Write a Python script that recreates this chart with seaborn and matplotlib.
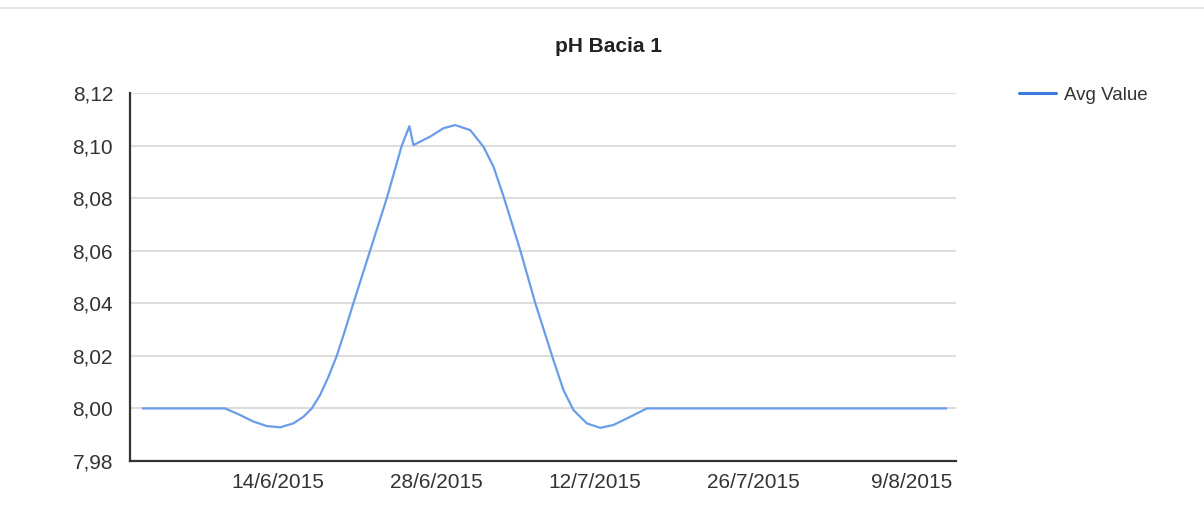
import pandas as pd
import matplotlib.pyplot as plt
import matplotlib.dates as mdates
from matplotlib.ticker import FuncFormatter, FixedLocator
from matplotlib.lines import Line2D
import seaborn as sns

# Readings taken off the curve (time, pH)
times = [
    "2015-06-02 01:00", "2015-06-09 07:30", "2015-06-10 15:20", "2015-06-11 19:30",
    "2015-06-13 00:00", "2015-06-14 04:20", "2015-06-15 08:25", "2015-06-16 05:45",
    "2015-06-16 23:35", "2015-06-17 17:15", "2015-06-18 10:50", "2015-06-19 04:35",
    "2015-06-19 22:20", "2015-06-20 15:50", "2015-06-22 03:20", "2015-06-23 14:50",
    "2015-06-24 22:35", "2015-06-25 14:50", "2015-06-25 23:15", "2015-06-27 10:45",
    "2015-06-28 15:00", "2015-06-29 15:50", "2015-06-30 23:45", "2015-07-02 03:50",
    "2015-07-03 01:10", "2015-07-03 22:20", "2015-07-05 09:50", "2015-07-06 17:45",
    "2015-07-08 08:25", "2015-07-09 05:45", "2015-07-10 02:55",
    "2015-07-11 07:25", "2015-07-12 11:45", "2015-07-13 15:50", "2015-07-15 03:20",
    "2015-07-16 14:50", "2015-08-12 02:10",
]
values = [
    8.0000, 8.0000, 7.9975, 7.9950,
    7.9933, 7.9928, 7.9943, 7.9968,
    8.0000, 8.0051, 8.0120, 8.0200,
    8.0298, 8.0400, 8.0600, 8.0800,
    8.1000, 8.1074, 8.1002, 8.1034,
    8.1066, 8.1078, 8.1059, 8.0996,
    8.0920, 8.0808, 8.0603, 8.0402,
    8.0184, 8.0070, 7.9994,
    7.9943, 7.9926, 7.9937, 7.9968,
    8.0000, 8.0000,
]

tick_dates = ["2015-06-14", "2015-06-28", "2015-07-12", "2015-07-26", "2015-08-09"]
y_ticks = [7.98, 8.00, 8.02, 8.04, 8.06, 8.08, 8.10, 8.12]

df = pd.DataFrame({"time": pd.to_datetime(times), "value": values, "series": "Avg Value"})

sns.set_style("white")
plt.rcParams["font.family"] = ["Liberation Sans", "DejaVu Sans"]

fig = plt.figure(figsize=(12.04, 5.13), dpi=100)
ax = fig.add_axes([0.108, 0.1014, 0.686, 0.7173])

ax.set_ylim(7.98, 8.12)
ax.set_xlim(pd.Timestamp("2015-05-31 21:50"), pd.Timestamp("2015-08-12 22:50"))
ax.set_yticks(y_ticks)
ax.yaxis.grid(True, color="#dddddd", linewidth=1.5)
ax.set_axisbelow(True)

sns.lineplot(data=df, x="time", y="value", hue="series", palette=["#6a9de8"],
             linewidth=1.6, ax=ax, legend=False)

ax.xaxis.set_major_locator(FixedLocator(mdates.date2num(pd.to_datetime(tick_dates))))
ax.xaxis.set_major_formatter(FuncFormatter(
    lambda v, p: (lambda d: f"{d.day}/{d.month}/{d.year}")(mdates.num2date(v))))
ax.yaxis.set_major_formatter(FuncFormatter(lambda v, p: f"{v:.2f}".replace(".", ",")))

for side in ["top", "right"]:
    ax.spines[side].set_visible(False)
for side in ["left", "bottom"]:
    ax.spines[side].set_color("#333333")
    ax.spines[side].set_linewidth(1.6)
ax.tick_params(axis="both", direction="out", width=1.5, color="#333333",
               labelsize=15, labelcolor="#333333")
ax.tick_params(axis="y", length=8.6, pad=3.6)
ax.tick_params(axis="x", length=3.6, pad=5.4)
ax.set_xlabel("")
ax.set_ylabel("")

fig.text(0.505, 0.91, "pH Bacia 1", ha="center", va="center", fontsize=15,
         fontweight="bold", color="#222222")

# legend at the right, outside the plot area
handle = Line2D([], [], color="#3a7be0", linewidth=2.2)
fig.legend([handle], ["Avg Value"], loc="upper left", bbox_to_anchor=(0.832, 0.8645),
           frameon=False, fontsize=13.5, handlelength=2.0, handletextpad=0.4,
           labelcolor="#333333")

# thin separator at the very top of the image
fig.add_artist(Line2D([0, 1], [0.985, 0.985], color="#e2e2e2", linewidth=1.2,
                      transform=fig.transFigure))

fig.savefig("out.png", dpi=100)
